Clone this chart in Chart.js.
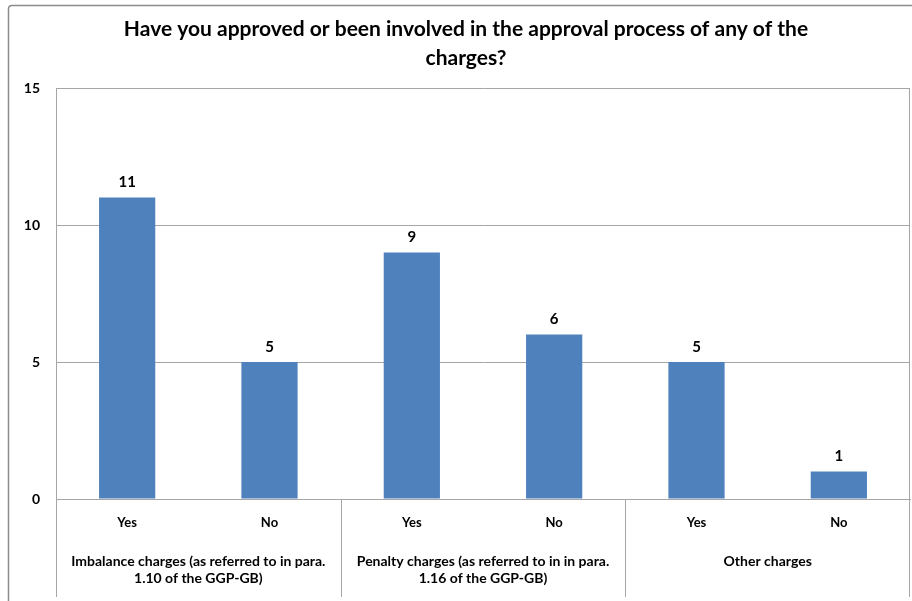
<!DOCTYPE html>
<html>
<head>
<meta charset="utf-8">
<script src="https://cdn.jsdelivr.net/npm/chart.js@4.4.1/dist/chart.umd.min.js"></script>
<style>
  html, body { margin: 0; padding: 0; background: #fff; }
  #wrap { width: 912px; height: 601px; position: relative; }
</style>
</head>
<body>
<div id="wrap"><canvas id="chart"></canvas></div>
<script>
const titleLines = ['Have you approved or been involved in the approval process of any of the', 'charges?'];
const answers = ['Yes', 'No', 'Yes', 'No', 'Yes', 'No'];
const groups = [
    ['Imbalance charges (as referred to in para.', '1.10 of the GGP-GB)'],
    ['Penalty charges (as referred to in in para.', '1.16 of the GGP-GB)'],
    ['Other charges']
];
const counts = [11, 5, 9, 6, 5, 1];
const yTicks = [0, 5, 10, 15];

const FONT = 'Lato, "Open Sans", sans-serif';
const LINE = '#a6a6a6';

// frame, title, value labels and the two-level category axis
const decorations = {
    id: 'decorations',
    beforeDraw(chart) {
        const { ctx, width, height } = chart;
        ctx.save();
        ctx.fillStyle = '#fff';
        ctx.fillRect(0, 0, width, height);
        ctx.strokeStyle = '#8c8c8c';
        ctx.lineWidth = 1.5;
        ctx.beginPath();
        ctx.moveTo(8.5, height + 2);
        ctx.lineTo(8.5, 9);
        ctx.quadraticCurveTo(8.5, 5.5, 12, 5.5);
        ctx.lineTo(width + 2, 5.5);
        ctx.stroke();

        ctx.fillStyle = '#000';
        ctx.font = 'bold 21px ' + FONT;
        ctx.textAlign = 'center';
        ctx.textBaseline = 'middle';
        titleLines.forEach((line, i) => ctx.fillText(line, 466, 29 + i * 29));
        ctx.restore();
    },
    afterDraw(chart) {
        const { ctx, chartArea, scales } = chart;
        const x = scales.x;
        const bottom = 597;
        ctx.save();
        ctx.strokeStyle = LINE;
        ctx.lineWidth = 1;

        // right edge of the plot area and the left edge down through the labels
        ctx.beginPath();
        ctx.moveTo(Math.round(chartArea.right) - 0.5, chartArea.top);
        ctx.lineTo(Math.round(chartArea.right) - 0.5, bottom);
        ctx.moveTo(Math.round(chartArea.left) + 0.5, chartArea.bottom);
        ctx.lineTo(Math.round(chartArea.left) + 0.5, bottom);
        ctx.stroke();

        // group separators and group names
        const step = (chartArea.right - chartArea.left) / answers.length;
        ctx.fillStyle = '#000';
        ctx.font = 'bold 14px ' + FONT;
        ctx.textAlign = 'center';
        ctx.textBaseline = 'middle';
        groups.forEach((lines, g) => {
            const left = x.getPixelForValue(g * 2) - step / 2;
            const right = x.getPixelForValue(g * 2 + 1) + step / 2;
            if (g > 0) {
                ctx.beginPath();
                ctx.moveTo(Math.round(left) + 0.5, chartArea.bottom);
                ctx.lineTo(Math.round(left) + 0.5, bottom);
                ctx.stroke();
            }
            lines.forEach((line, i) => {
                ctx.fillText(line, (left + right) / 2, 561 + i * 17);
            });
        });

        // value labels above the bars
        ctx.font = 'bold 15px ' + FONT;
        const meta = chart.getDatasetMeta(0);
        meta.data.forEach((bar, i) => {
            ctx.fillText(String(counts[i]), bar.x, bar.y - 15);
        });
        ctx.restore();
    }
};

new Chart(document.getElementById('chart'), {
    type: 'bar',
    data: {
        labels: answers,
        datasets: [{
            data: counts,
            backgroundColor: '#4f81bd',
            borderWidth: 0,
            categoryPercentage: 1,
            barPercentage: 0.395
        }]
    },
    options: {
        responsive: true,
        maintainAspectRatio: false,
        animation: false,
        layout: { padding: { left: 0, right: 2, top: 88, bottom: 0 } },
        plugins: {
            legend: { display: false },
            tooltip: { enabled: false },
            title: { display: false }
        },
        scales: {
            x: {
                grid: { display: false, drawTicks: false },
                border: { display: true, color: LINE, width: 1 },
                ticks: { color: '#000', font: { family: FONT, size: 13, weight: 'bold' }, padding: 16, maxRotation: 0 },
                afterFit: s => { s.height = 102; }
            },
            y: {
                min: 0,
                max: 15,
                afterBuildTicks: s => { s.ticks = yTicks.map(v => ({ value: v })); },
                grid: { color: LINE, drawTicks: false },
                border: { display: true, color: LINE, width: 1 },
                ticks: { color: '#000', font: { family: FONT, size: 14, weight: 'bold' }, padding: 16 },
                afterFit: s => { s.width = 56; }
            }
        }
    },
    plugins: [decorations]
});
</script>
</body>
</html>
